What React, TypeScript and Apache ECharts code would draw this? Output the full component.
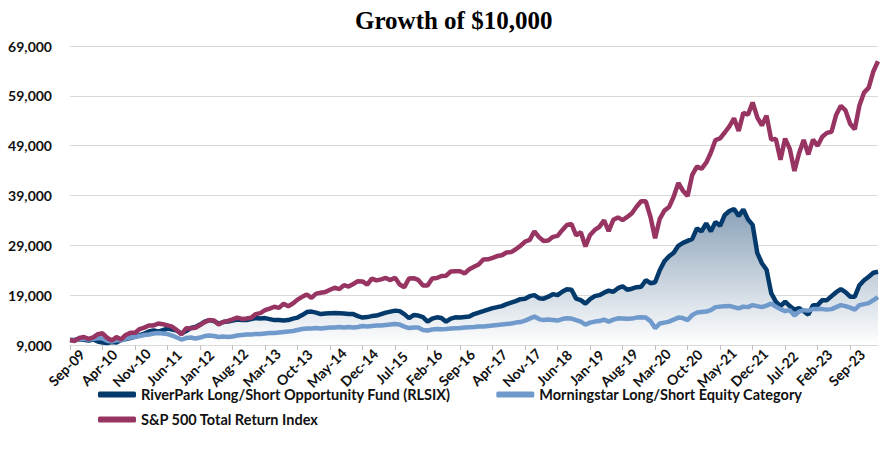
import React, { useEffect, useRef } from "react";
import * as echarts from "echarts";

const MONTHS = ["Jan", "Feb", "Mar", "Apr", "May", "Jun", "Jul", "Aug", "Sep", "Oct", "Nov", "Dec"];
const START_YEAR = 2009;
const START_MONTH = 8; // Sep
const POINT_COUNT = 175; // Sep-09 .. Mar-24
const categories: string[] = [];
for (let k = 0; k < POINT_COUNT; k++) {
  const m = (START_MONTH + k) % 12;
  const y = START_YEAR + Math.floor((START_MONTH + k) / 12);
  categories.push(MONTHS[m] + "-" + String(y % 100).padStart(2, "0"));
}

const rlsix = [
  10000, 10050, 10150, 10050, 9900, 10100, 9700, 9500, 9400, 9600,
  9500, 10000, 10200, 10400, 10700, 11000, 11300, 11700, 11900, 11700,
  12000, 12300, 12100, 11900, 11300, 11800, 12400, 12600, 13100, 13700,
  14000, 13800, 13300, 13600, 13700, 13900, 14100, 14000, 14000, 14200,
  14400, 14300, 14400, 14200, 14000, 14000, 13900, 14000, 14300, 14500,
  15000, 15600, 15700, 15500, 15200, 15300, 15350, 15400, 15350, 15300,
  15200, 15200, 14800, 14500, 14600, 14800, 14900, 15200, 15500, 15700,
  15900, 15800, 15200, 14400, 15000, 14900, 14600, 13700, 14300, 14550,
  14400, 13700, 14300, 14550, 14500, 14600, 14700, 15200, 15500, 15800,
  16100, 16400, 16600, 16800, 17200, 17500, 17800, 18200, 18300, 18800,
  19000, 18400, 18300, 18700, 19200, 19000, 19700, 20200, 20100, 18300,
  18000, 17300, 18200, 18800, 19000, 19500, 19900, 19700, 20400, 20800,
  20100, 20300, 20600, 20700, 22000, 21400, 21600, 24000, 25800, 26800,
  27500, 28900, 29500, 29900, 30300, 32400, 31800, 33400, 31800, 33700,
  32900, 35100, 35900, 36300, 34900, 36200, 34200, 33100, 27500, 25400,
  24100, 19400, 17700, 16800, 17700, 16800, 16100, 16400, 15800, 15100,
  17000, 17000, 18000, 18000, 18800, 19600, 20200, 19600, 18700, 18700,
  21000, 22000, 22700, 23500, 23700,
];

const morningstar = [
  10000, 9950, 10150, 10250, 10100, 10200, 10400, 10300, 9850, 9700,
  10000, 9900, 10300, 10500, 10600, 10800, 11000, 11100, 11300, 11400,
  11300, 11200, 10900, 10500, 10100, 10400, 10500, 10300, 10500, 10800,
  10900, 10800, 10600, 10700, 10600, 10700, 10900, 11000, 11100, 11100,
  11200, 11200, 11300, 11400, 11400, 11500, 11600, 11700, 11800, 12000,
  12200, 12300, 12300, 12400, 12300, 12400, 12500, 12500, 12600, 12500,
  12600, 12500, 12600, 12800, 12700, 12800, 12900, 12900, 13000, 13100,
  13200, 13100, 12700, 12400, 12500, 12500, 12000, 11900, 12100, 12200,
  12150, 12200, 12300, 12350, 12400, 12500, 12550, 12600, 12700, 12700,
  12800, 12900, 13000, 13100, 13200, 13300, 13500, 13600, 13900, 14300,
  14700, 14200, 14000, 14100, 14000, 13900, 14200, 14350, 14300, 14000,
  13700, 13100, 13500, 13700, 13800, 14100, 13700, 14100, 14350, 14300,
  14250, 14300, 14500, 14550, 14500, 13800, 12400, 13300, 13500, 13700,
  14100, 14500, 14400, 14000, 15000, 15500, 15600, 15700, 16000, 16600,
  16700, 16800, 16850, 16600, 16350, 16700, 16600, 17000, 16800, 16600,
  16900, 17300, 16700, 16200, 15800, 16000, 14900, 15700, 16000, 15900,
  16200, 16200, 16200, 16100, 16200, 16600, 17000, 16800, 16500, 16100,
  17000, 17200, 17400, 18000, 18600,
];

const sp500 = [
  10000, 9814, 10403, 10604,
  10222, 10539, 11174, 11350, 10443, 9897, 10591, 10114, 11016, 11435, 11436, 12200,
  12489, 12918, 12923, 13305, 13155, 12935, 12672, 11984, 11142, 12360, 12333, 12459,
  13017, 13579, 14026, 13938, 13100, 13640, 13830, 14141, 14506, 14238, 14320, 14451,
  15199, 15406, 15984, 16292, 16673, 16450, 17287, 16786, 17313, 18109, 18662, 19134,
  18472, 19316, 19478, 19622, 20083, 20499, 20216, 21025, 20730, 21236, 21807, 21753,
  21100, 22313, 21961, 22171, 22457, 22022, 22484, 21128, 20606, 22345, 22412, 22058,
  20964, 20937, 22356, 22443, 22847, 22906, 23752, 23785, 23790, 23357, 24221, 24700,
  25170, 26169, 26200, 26470, 26843, 27010, 27566, 27652, 28221, 28879, 29765, 30096,
  31820, 30646, 29868, 29982, 30704, 30895, 32044, 33089, 33278, 31001, 31633, 28777,
  31082, 32080, 32702, 34027, 31866, 34113, 34604, 34057, 34694, 35447, 36734, 37843,
  37828, 34715, 30428, 34329, 35963, 36679, 38747, 41533, 39955, 38892, 43151, 44808,
  44355, 45580, 47576, 50117, 50468, 51644, 52873, 54480, 51947, 55588, 55205, 57678,
  54696, 53060, 55029, 50230, 50321, 46170, 50427, 48370, 43915, 47472, 50126, 47239,
  50205, 48980, 50778, 51570, 51792, 55216, 56988, 56082, 53407, 52285, 57059, 59649,
  60651, 63890, 65947,
];

const NAMES = [
  "RiverPark Long/Short Opportunity Fund (RLSIX)",
  "Morningstar Long/Short Equity Category",
  "S&P 500 Total Return Index",
];
const COLORS = ["#033a6b", "#7099cc", "#983462"];

export default function App() {
  const ref = useRef<HTMLDivElement>(null);
  useEffect(() => {
    document.body.style.margin = "0";
    if (!ref.current) return;
    const chart = echarts.init(ref.current, undefined, { renderer: "svg" });
    const font = "Lato, 'Open Sans', sans-serif";
    const legendText = { fontFamily: font, fontSize: 14.5, fontWeight: "bold", color: "#111" };
    chart.setOption({
      animation: false,
      backgroundColor: "#ffffff",
      title: {
        text: "Growth of $10,000",
        left: 355,
        top: 8,
        padding: 0,
        textStyle: { fontFamily: "'Liberation Serif', 'Times New Roman', serif", fontSize: 25, fontWeight: "bold", color: "#000" },
      },
      legend: [
        {
          data: [NAMES[0], NAMES[1]],
          left: 98,
          top: 387,
          padding: 0,
          itemGap: 46,
          itemWidth: 38,
          itemHeight: 6,
          icon: "roundRect",
          textStyle: legendText,
        },
        {
          data: [NAMES[2]],
          left: 98,
          top: 412,
          padding: 0,
          itemWidth: 38,
          itemHeight: 6,
          icon: "roundRect",
          textStyle: legendText,
        },
      ],
      grid: { left: 70, right: 4, top: 46, bottom: 108 },
      xAxis: {
        type: "category",
        data: categories,
        boundaryGap: false,
        axisLine: { lineStyle: { color: "#d9d9d9" } },
        axisTick: { interval: 6, length: 5, lineStyle: { color: "#bfbfbf" } },
        axisLabel: {
          interval: 6,
          rotate: 45,
          align: "center",
          verticalAlign: "middle",
          padding: [0, 10, 0, 0],
          margin: 19,
          fontFamily: font,
          fontSize: 14,
          fontWeight: "bold",
          color: "#111",
        },
        splitLine: { show: false },
      },
      yAxis: {
        type: "value",
        min: 9000,
        max: 69000,
        interval: 10000,
        axisLine: { show: false },
        axisTick: { show: false },
        axisLabel: {
          margin: 18,
          fontFamily: font,
          fontSize: 14,
          fontWeight: "bold",
          color: "#111",
          formatter: (v: number) => v.toLocaleString("en-US"),
        },
        splitLine: { lineStyle: { color: "#d9d9d9", width: 1 } },
      },
      series: [
        {
          name: NAMES[0],
          type: "line",
          data: rlsix,
          symbol: "none",
          color: COLORS[0],
          lineStyle: { width: 4.5, color: COLORS[0] },
          areaStyle: {
            color: new echarts.graphic.LinearGradient(0, 0, 0, 1, [
              { offset: 0, color: "#8ba2b9" },
              { offset: 1, color: "#ffffff" },
            ]),
            opacity: 1,
          },
          z: 2,
        },
        {
          name: NAMES[1],
          type: "line",
          data: morningstar,
          symbol: "none",
          color: COLORS[1],
          lineStyle: { width: 4.5, color: COLORS[1] },
          z: 3,
        },
        {
          name: NAMES[2],
          type: "line",
          data: sp500,
          symbol: "none",
          color: COLORS[2],
          lineStyle: { width: 4.5, color: COLORS[2] },
          z: 4,
        },
      ],
    });
    return () => chart.dispose();
  }, []);
  return <div ref={ref} style={{ width: 882, height: 453 }} />;
}
